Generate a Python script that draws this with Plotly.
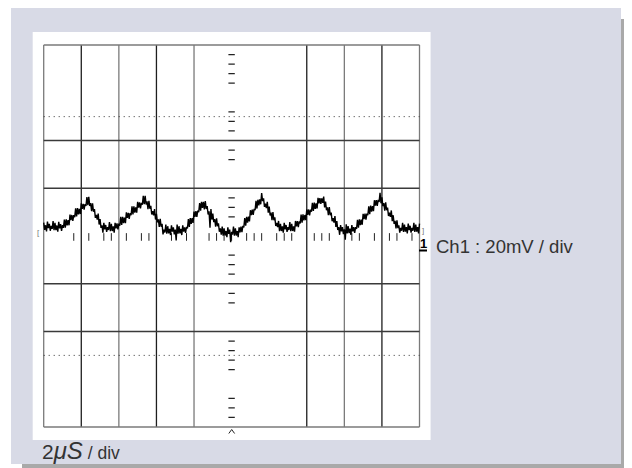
import plotly.graph_objects as go

# ---------------- data ----------------
# Ch1 samples, mV, one sample every 0.05 us from 0 to 20 us (10 div x 2 us/div)
sample_start_us = 0.0
sample_step_us = 0.05
ch1_mv = [
    5.6, 2.6, 4.5, 1.9, 6.0, 3.3, 5.1, 2.2, 4.2, 3.0,
    6.2, 2.4, 5.5, 2.5, 4.4, 1.8, 5.9, 3.2, 5.0, 2.1,
    4.6, 3.4, 6.9, 3.5, 7.0, 4.4, 6.7, 4.5, 9.0, 6.6,
    8.8, 6.3, 8.7, 7.9, 11.6, 8.2, 11.7, 9.1, 11.4, 9.2,
    13.7, 11.4, 13.5, 11.0, 13.4, 12.6, 16.3, 12.9, 16.4, 12.6,
    13.8, 10.4, 13.7, 10.2, 11.3, 7.6, 8.8, 6.9, 9.4, 4.8,
    7.1, 3.4, 4.5, 1.4, 5.5, 2.8, 4.6, 1.7, 3.7, 2.5,
    5.8, 2.0, 5.1, 2.1, 4.0, 1.4, 5.5, 3.2, 5.3, 2.8,
    5.2, 4.3, 8.0, 4.6, 8.0, 5.4, 7.7, 5.4, 9.9, 7.6,
    9.7, 7.2, 9.6, 8.7, 12.4, 9.0, 12.4, 9.8, 12.0, 9.8,
    14.3, 11.9, 14.1, 11.6, 13.9, 13.1, 16.8, 13.3, 16.8, 13.2,
    14.5, 11.2, 14.7, 11.4, 12.6, 9.0, 10.4, 8.6, 11.3, 6.9,
    9.3, 5.7, 7.0, 3.8, 7.2, 3.9, 5.1, 0.7, 2.7, 1.5,
    4.8, 1.0, 4.1, 1.1, 3.0, 0.4, 4.5, 1.8, 3.6, 0.7,
    2.7, -1.9, 4.8, 1.0, 4.1, 1.1, 3.0, 0.4, 4.5, 1.8,
    3.6, 1.3, 3.8, 3.2, 7.1, 3.8, 7.5, 5.1, 7.5, 5.5,
    10.2, 8.0, 10.4, 8.0, 10.6, 10.0, 13.8, 10.6, 14.3, 11.8,
    14.3, 11.1, 14.6, 11.3, 12.5, 9.0, 10.4, 3.5, 11.3, 6.9,
    9.4, 5.8, 7.1, 3.9, 7.4, 4.1, 5.3, 1.8, 3.2, 0.6,
    3.9, 0.1, 3.2, 0.2, 2.1, -0.5, 3.6, 0.9, 2.7, -2.6,
    1.8, 0.6, 3.9, 0.1, 3.2, 0.2, 2.1, -0.5, 3.6, 1.5,
    3.9, 1.6, 4.2, 3.6, 7.5, 4.3, 8.0, 5.6, 8.1, 6.1,
    10.8, 8.7, 11.1, 8.8, 11.4, 10.8, 14.7, 11.5, 15.2, 12.8,
    15.3, 13.3, 18.0, 14.6, 15.8, 12.2, 13.5, 11.7, 14.3, 9.8,
    12.3, 8.6, 9.8, 6.6, 10.0, 6.6, 7.8, 4.2, 5.5, 3.7,
    6.3, 2.0, 5.1, 2.1, 4.0, 1.4, 5.5, 2.8, 4.6, 1.7,
    3.7, 2.5, 5.8, 2.0, 5.1, 2.1, 4.0, 1.8, 6.3, 4.0,
    6.2, 3.7, 6.1, 5.3, 9.0, 5.6, 9.1, 6.5, 8.8, 6.6,
    11.1, 8.9, 11.1, 8.6, 11.0, 10.2, 13.9, 10.5, 14.0, 11.4,
    13.7, 11.5, 16.0, 13.7, 15.9, 13.4, 15.8, 13.9, 16.5, 12.0,
    14.4, 10.8, 12.0, 8.7, 12.1, 8.7, 9.8, 6.2, 7.5, 5.6,
    8.3, 3.8, 6.2, 2.5, 3.7, 0.5, 4.6, 1.9, 3.7, 0.8,
    2.8, -1.5, 4.9, 1.1, 4.2, 1.2, 3.1, 0.5, 4.6, 1.9,
    3.7, 1.3, 3.7, 3.0, 6.8, 3.5, 7.0, 4.5, 6.9, 4.7,
    9.3, 7.1, 9.4, 6.9, 9.4, 8.7, 12.4, 9.1, 12.7, 10.2,
    12.5, 10.4, 15.0, 12.7, 15.0, 12.6, 15.1, 14.3, 18.1, 13.7,
    16.2, 12.5, 13.8, 10.6, 14.1, 10.8, 11.9, 8.4, 9.8, 8.0,
    10.7, 6.2, 8.7, 5.1, 6.4, 3.2, 6.6, 3.3, 4.5, 1.4,
    3.4, 2.2, 5.5, 1.7, 4.8, 1.8, 3.7, 1.1, 5.2, 2.5,
    4.3, 1.4, 3.4, 2.2, 5.5, 1.7, 4.8, 1.8, 3.7, 1.1,
    5.2,
]

# graticule (us / mV)
solid_vlines_us = [0, 2, 4, 6, 8, 14, 16, 18, 20]
solid_hlines_mv = [80, 40, 20, -20, -40, -80]
dotted_hlines_mv = [50, -50]
center_vticks_mv = [76, 72, 68, 64, 52, 48, 44, 36, 32, 16, 12, 8,
                    -8, -12, -16, -24, -28, -44, -48, -52, -56, -68, -72, -76]
center_hticks_us = [1.6, 2.4, 3.2, 3.6, 4.4, 5.2, 5.6, 6.8, 7.6, 8.8, 9.2, 9.6,
                    10.0, 10.8, 11.2, 11.6, 12.4, 12.8, 13.2, 14.4, 14.8, 15.2,
                    16.4, 16.8, 17.6, 18.4, 18.8, 19.6]

ch_label = "Ch1 : 20mV / div"
time_label = ("<span style='font-size:21px'>2</span>"
              "<i><span style='font-size:24px'>\u03bcS</span></i> / div")

# ---------------- layout geometry (pixels of the 632x468 window) ----------------
OFF = 8                      # default page body margin
W, H = 632 - OFF, 468 - OFF  # figure size so that it ends at the window edge
GX0, GX1 = 43.7, 419.5       # t = 0 .. 20 us
GY0, GY1 = 427.0, 45.0       # v = -80 .. 80 mV
sx = (GX1 - GX0) / 20.0
sy = (GY0 - GY1) / 160.0
TP, VP = 0.3, 2.0


def fx(px):
    return (px - OFF) / W


def fy(py):
    return 1 - (py - OFF) / H


shapes = []
# background panels
shapes.append(dict(type="rect", xref="paper", yref="paper", x0=fx(22), x1=fx(632),
                   y0=fy(468), y1=fy(19), fillcolor="#a9a9a9", line_width=0, layer="below"))
shapes.append(dict(type="rect", xref="paper", yref="paper", x0=fx(11), x1=fx(621),
                   y0=fy(464), y1=fy(7), fillcolor="#d8dae6", line_width=0, layer="below"))
shapes.append(dict(type="rect", xref="paper", yref="paper", x0=fx(32.7), x1=fx(430.6),
                   y0=fy(440), y1=fy(32), fillcolor="#ffffff", line_width=0, layer="below"))

# grid
for i, t in enumerate(solid_vlines_us):
    col = "#7a7a7a" if i % 2 == 0 else "#1e1e1e"
    shapes.append(dict(type="line", xref="x", yref="y", x0=t, x1=t, y0=-80, y1=80,
                       line=dict(color=col, width=1.3), layer="below"))
for v in solid_hlines_mv:
    col = "#7a7a7a" if abs(v) == 80 else "#3a3a3a"
    shapes.append(dict(type="line", xref="x", yref="y", x0=0, x1=20, y0=v, y1=v,
                       line=dict(color=col, width=1.3), layer="below"))
for v in dotted_hlines_mv:
    shapes.append(dict(type="line", xref="x", yref="y", x0=0, x1=20, y0=v, y1=v,
                       line=dict(color="#333333", width=1, dash="1px,4px"), layer="below"))
for v in center_vticks_mv:
    shapes.append(dict(type="line", xref="x", yref="y", x0=9.83, x1=10.17, y0=v, y1=v,
                       line=dict(color="#222222", width=1.3), layer="below"))
for t in center_hticks_us:
    shapes.append(dict(type="line", xref="x", yref="y", x0=t, x1=t, y0=-2.0, y1=1.2,
                       line=dict(color="#222222", width=1), layer="below"))

# ground marker underline and trigger caret
shapes.append(dict(type="line", xref="paper", yref="paper", x0=fx(419), x1=fx(427),
                   y0=fy(250.5), y1=fy(250.5), line=dict(color="#000000", width=2)))
shapes.append(dict(type="path", xref="paper", yref="paper",
                   path=f"M {fx(228.8)} {fy(433.5)} L {fx(231.7)} {fy(429.5)} L {fx(234.6)} {fy(433.5)}",
                   line=dict(color="#222222", width=1)))

annotations = [
    dict(text=ch_label, xref="paper", yref="paper", x=fx(434), y=fy(246),
         xanchor="left", yanchor="middle", showarrow=False,
         font=dict(family="Liberation Sans, Arial", size=18.5, color="#333333")),
    dict(text=time_label, xref="paper", yref="paper", x=fx(40), y=fy(450),
         xanchor="left", yanchor="middle", showarrow=False,
         font=dict(family="Liberation Sans, Arial", size=17.5, color="#333333")),
    dict(text="<b>1</b>", xref="paper", yref="paper", x=fx(423.5), y=fy(243),
         xanchor="center", yanchor="middle", showarrow=False,
         font=dict(family="Liberation Sans, Arial", size=13, color="#000000")),
    dict(text="[", xref="paper", yref="paper", x=fx(38.5), y=fy(233),
         xanchor="center", yanchor="middle", showarrow=False,
         font=dict(family="Liberation Sans, Arial", size=8, color="#777777")),
    dict(text="]", xref="paper", yref="paper", x=fx(422.5), y=fy(230.5),
         xanchor="center", yanchor="middle", showarrow=False,
         font=dict(family="Liberation Sans, Arial", size=8, color="#777777")),
]

fig = go.Figure()
fig.add_trace(go.Scatter(y=ch1_mv, x0=sample_start_us, dx=sample_step_us, mode="lines",
                         line=dict(color="#000000", width=1.4), hoverinfo="skip",
                         showlegend=False))

fig.update_layout(
    width=W, height=H,
    margin=dict(l=0, r=0, t=0, b=0),
    paper_bgcolor="#ffffff",
    plot_bgcolor="rgba(0,0,0,0)",
    shapes=shapes,
    annotations=annotations,
    showlegend=False,
    xaxis=dict(range=[-TP, 20 + TP], visible=False, fixedrange=True,
               domain=[fx(GX0 - TP * sx), fx(GX1 + TP * sx)]),
    yaxis=dict(range=[-80 - VP, 80 + VP], visible=False, fixedrange=True,
               domain=[fy(GY0 + VP * sy), fy(GY1 - VP * sy)]),
)

fig.write_html("out.html", config={"displayModeBar": False})
